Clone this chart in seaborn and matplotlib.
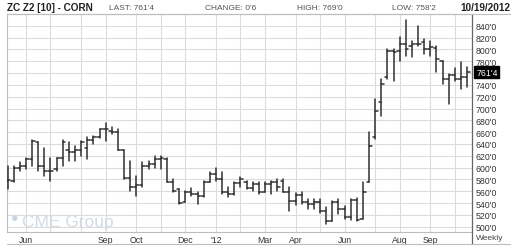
import numpy as np
import pandas as pd
import matplotlib
matplotlib.use('Agg')
import matplotlib.pyplot as plt
from matplotlib.lines import Line2D
import seaborn as sns

# ---------------- data (cents per bushel, weekly bars) ----------------
first_week = '2011-05-13'
opens = [578, 578, 600, 603, 614, 644, 603, 595, 598, 616, 629, 627, 629, 634, 647, 651,
         665, 662, 661, 629, 582, 568, 571, 603, 606, 614, 614, 576, 563, 541, 558, 555,
         552, 576, 589, 580, 558, 555, 574, 575, 565, 572, 559, 572, 575, 578, 559, 544,
         553, 541, 538, 541, 527, 510, 541, 530, 516, 546, 513, 575, 651, 711, 753, 798,
         798, 809, 806, 809, 812, 801, 802, 781, 750, 756, 750, 753]
highs = [603, 603, 610, 617, 647, 644, 633, 617, 617, 647, 644, 637, 645, 651, 653, 666,
         675, 668, 666, 629, 612, 585, 609, 612, 619, 619, 617, 581, 564, 561, 565, 559,
         578, 592, 600, 592, 567, 575, 584, 578, 575, 575, 575, 578, 580, 580, 567, 557,
         558, 547, 547, 547, 533, 544, 547, 535, 547, 548, 575, 660, 716, 750, 801, 801,
         821, 849, 815, 840, 818, 815, 806, 781, 758, 768, 778, 770]
lows = [564, 575, 595, 598, 603, 595, 585, 578, 595, 603, 612, 612, 620, 614, 640, 650,
        645, 657, 629, 581, 561, 552, 567, 598, 600, 598, 575, 558, 538, 541, 552, 538,
        550, 575, 578, 555, 551, 554, 567, 564, 561, 555, 558, 555, 561, 558, 527, 536,
        538, 530, 530, 524, 505, 509, 522, 513, 512, 510, 513, 575, 648, 688, 750, 747,
        781, 789, 787, 806, 792, 789, 761, 741, 708, 747, 733, 736]
closes = [579, 600, 603, 614, 645, 603, 595, 595, 616, 643, 626, 629, 644, 647, 651, 665,
          666, 661, 629, 582, 568, 571, 603, 606, 614, 617, 576, 561, 540, 558, 555, 552,
          576, 589, 580, 558, 555, 574, 581, 565, 572, 558, 572, 575, 567, 559, 544, 553,
          541, 538, 541, 527, 510, 541, 530, 516, 546, 512, 558, 637, 696, 741, 798, 795,
          809, 801, 809, 809, 801, 804, 784, 750, 756, 750, 753, 761.5]

y_ticks = list(range(500, 841, 20))
hidden_tick = 760  # covered by the last-price box
month_labels = {(2011, 6): 'Jun', (2011, 9): 'Sep', (2011, 10): 'Oct', (2011, 12): 'Dec',
                (2012, 1): "'12", (2012, 3): 'Mar', (2012, 4): 'Apr', (2012, 6): 'Jun',
                (2012, 8): 'Aug', (2012, 9): 'Sep'}
title = "ZC Z2 [10] - CORN"
header = ["LAST: 761'4", "CHANGE: 0'6", "HIGH: 769'0", "LOW: 758'2"]
date_text = "10/19/2012"
last_text = "761'4"
period_text = "Weekly"
watermark = "CME Group"

# ---------------- style ----------------
sns.set_style('white')
plt.rcParams['font.family'] = ['Liberation Sans', 'DejaVu Sans']

dates = pd.date_range(first_week, periods=len(opens), freq='7D')

tick_len = 0.42
rows = []
for i, (o, h, l, c) in enumerate(zip(opens, highs, lows, closes)):
    rows += [(i, l, 3 * i), (i, h, 3 * i)]
    rows += [(i - tick_len, o, 3 * i + 1), (i, o, 3 * i + 1)]
    rows += [(i, c, 3 * i + 2), (i + tick_len, c, 3 * i + 2)]
df = pd.DataFrame(rows, columns=['x', 'price', 'seg'])

W, H = 511, 251
fig = plt.figure(figsize=(W / 100, H / 100), dpi=100)
fig.patch.set_facecolor('white')
ax = fig.add_axes([7 / W, 1 - 233 / H, 465 / W, 218 / H])

sns.lineplot(data=df, x='x', y='price', units='seg', estimator=None, sort=False,
             color='#303030', lw=1.1, ax=ax, legend=False, zorder=3)

ax.set_xlim(-0.1, 75.8)
ax.set_ylim(491, 860)

# month gridlines at first bar of each month
per = dates.to_period('M')
first_idx = [i for i in range(1, len(dates)) if per[i] != per[i - 1]]
ax.set_xticks(first_idx)
ax.set_xticklabels([month_labels.get((dates[i].year, dates[i].month), '') for i in first_idx])
ax.set_yticks(y_ticks)
ax.set_yticklabels(['' if v == hidden_tick else f"{v}'0" for v in y_ticks])
ax.yaxis.tick_right()
ax.set_xlabel('')
ax.set_ylabel('')
ax.grid(True, color='#dcdcdc', lw=0.8, zorder=0)
ax.tick_params(axis='both', length=0, labelsize=6.3, colors='#333333')
ax.tick_params(axis='y', pad=2.5)
ax.tick_params(axis='x', pad=2.0)
for s in ['left', 'top', 'bottom']:
    ax.spines[s].set_color('#bdbdbd')
    ax.spines[s].set_linewidth(0.8)
ax.spines['right'].set_visible(False)

# frame lines outside the plotting area
fig.add_artist(Line2D([472 / W, 472 / W], [1 - 15 / H, 1 - 245 / H], color='#666666', lw=0.9))
fig.add_artist(Line2D([7 / W, 1], [1 - 245 / H, 1 - 245 / H], color='#bdbdbd', lw=0.8))
fig.add_artist(Line2D([7 / W, 1], [1 - 15 / H, 1 - 15 / H], color='#bdbdbd', lw=0.8))

# header
fig.text(7 / W, 1 - 8 / H, title, fontsize=7.2, fontweight='bold', color='#222222', va='center', ha='left')
for txt, x in zip(header, [109, 205, 297, 392]):
    fig.text(x / W, 1 - 8 / H, txt, fontsize=6.0, color='#555555', va='center', ha='left')
fig.text(510 / W, 1 - 8 / H, date_text, fontsize=7.2, fontweight='bold', color='#222222', va='center', ha='right')
fig.text(490 / W, 1 - 239 / H, period_text, fontsize=6.0, color='#444444', va='center', ha='center')

# last value marker
ax.annotate(last_text, xy=(1.0, closes[-1]), xycoords=('axes fraction', 'data'),
            xytext=(3, 0), textcoords='offset points', fontsize=6.3, color='white',
            va='center', ha='left', annotation_clip=False,
            bbox=dict(boxstyle='square,pad=0.2', fc='black', ec='black'))

# watermark
ax.text(0.008, 0.035, '\u25CF', transform=ax.transAxes, fontsize=9, color='#c8d6e4', ha='left', va='bottom', zorder=1)
ax.text(0.032, 0.015, watermark, transform=ax.transAxes, fontsize=12.5, color='#d2dae3', ha='left', va='bottom', zorder=1)

fig.savefig('out.png', dpi=100, facecolor='white')
